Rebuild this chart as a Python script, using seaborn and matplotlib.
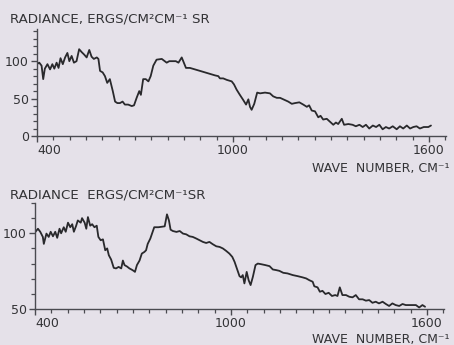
import numpy as np
import pandas as pd
import matplotlib
matplotlib.use("Agg")
import matplotlib.pyplot as plt
from matplotlib.ticker import MultipleLocator, FixedLocator
import seaborn as sns

# ---------------- data ----------------
top_wn = [399, 407, 414, 419, 424, 432, 440, 447, 453, 460, 466, 472, 479, 486, 493,
          499, 506, 513, 521, 529, 537, 544, 552, 560, 567, 574, 583, 588, 593, 601,
          608, 615, 623, 632, 639, 646, 654, 662, 669, 679, 690, 697, 705, 713, 718,
          725, 733, 741, 748, 756, 766, 782, 797, 805, 815, 825, 833, 843, 856, 868,
          884, 899, 914, 930, 945, 955, 960, 970, 981, 996, 1003, 1011, 1021, 1030, 1040,
          1047, 1052, 1057, 1065, 1074, 1083, 1098, 1113, 1123, 1134, 1144, 1154, 1169, 1180, 1190,
          1203, 1215, 1226, 1233, 1241, 1251, 1261, 1268, 1276, 1287, 1297, 1307, 1315, 1322, 1333,
          1340, 1353, 1366, 1376, 1387, 1397, 1407, 1417, 1428, 1438, 1448, 1458, 1468, 1478, 1489,
          1501, 1511, 1521, 1532, 1542, 1552, 1562, 1572, 1584, 1598, 1606]
top_rad = [96, 98, 94, 76, 90, 96, 89, 96, 90, 98, 91, 104, 96, 105, 111,
           100, 107, 98, 100, 116, 112, 109, 105, 115, 106, 103, 105, 103, 87, 85,
           80, 71, 76, 60, 46, 44, 44, 46, 42, 42, 40, 41, 51, 60, 55,
           76, 76, 73, 80, 94, 102, 103, 98, 100, 100, 100, 98, 105, 91, 91,
           89, 87, 85, 83, 81, 80, 77, 77, 75, 73, 69, 62, 55, 49, 42,
           49, 39, 35, 43, 58, 57, 58, 57, 53, 51, 51, 49, 46, 43, 44,
           45, 42, 39, 41, 34, 33, 25, 27, 22, 23, 19, 15, 18, 16, 23,
           15, 16, 15, 13, 15, 12, 15, 10, 14, 12, 15, 9, 12, 10, 13,
           9, 13, 10, 14, 10, 12, 13, 10, 12, 12, 14]

bot_wn = [401, 409, 416, 424, 427, 435, 442, 448, 455, 462, 468, 475, 480, 488, 494,
          501, 508, 514, 519, 526, 531, 540, 544, 552, 557, 562, 569, 575, 582, 589,
          594, 601, 608, 615, 621, 626, 633, 641, 648, 656, 664, 669, 674, 682, 689,
          696, 702, 706, 712, 720, 727, 735, 740, 745, 753, 760, 765, 778, 797, 804,
          810, 815, 822, 833, 843, 853, 863, 873, 883, 894, 904, 914, 924, 934, 944,
          955, 965, 975, 985, 995, 1004, 1011, 1018, 1026, 1031, 1036, 1041, 1048, 1054, 1060,
          1067, 1075, 1082, 1092, 1105, 1118, 1128, 1138, 1148, 1160, 1173, 1189, 1204, 1219, 1230,
          1240, 1250, 1255, 1265, 1272, 1280, 1289, 1299, 1309, 1319, 1326, 1333, 1341, 1352, 1362,
          1372, 1382, 1392, 1403, 1413, 1423, 1433, 1443, 1453, 1464, 1474, 1484, 1494, 1504, 1515,
          1525, 1535, 1545, 1555, 1566, 1576, 1586, 1594]
bot_rad = [100.9, 103, 101, 97.6, 93, 99.8, 97.6, 101, 98, 101, 97, 103, 100, 104, 101,
           107, 104, 106, 101, 105, 108.5, 107, 110, 107, 103, 110.7, 105, 106, 104, 105,
           97.6, 95.4, 96, 88.8, 90, 85.5, 82.7, 77.2, 76.8, 77.8, 76.8, 82, 79, 78, 76.8,
           76, 75.2, 74.5, 79, 82, 86.6, 87.7, 88.8, 93, 96.5, 101, 104, 104, 104.6, 112.5,
           108.5, 102.4, 101.5, 100.9, 101.5, 99.8, 99.3, 98, 97.6, 96.5, 95.4, 94.3, 93.6, 94.3, 92.8,
           91.4, 91, 90, 88.4, 86.6, 84.4, 81.1, 76.8, 71.7, 70.9, 72.4, 66.9, 74.5, 69, 65.8,
           71.3, 79, 80, 79.6, 79, 78.3, 76.1, 75.7, 75.2, 73.9, 73.5, 72.4, 71.7, 70.9, 70.2,
           69, 68, 65, 64.3, 61.4, 62, 59.9, 60.7, 58.6, 59.2, 58.6, 64.3, 59.2, 59.2, 58.1,
           57.7, 59.2, 56.4, 56.4, 55.5, 55.9, 54.1, 54.8, 53.7, 54.8, 53.3, 52, 53.7, 52.6, 52,
           53.3, 52.6, 52.6, 52.6, 52.6, 51, 52.6, 51.5]

x_major = [400, 1000, 1600]
x_labels = ["400", "1000", "1600"]
top_y_major = [0, 50, 100]
bot_y_major = [50, 100]

top_title = "RADIANCE, ERGS/CM\u00b2CM\u207b\u00b9 SR"
bot_title = "RADIANCE  ERGS/CM\u00b2CM\u207b\u00b9SR"
xlabel = "WAVE  NUMBER, CM\u207b\u00b9"

# ---------------- style ----------------
sns.set_style("ticks")
BG = "#e5e1e9"
INK = "#29292c"
AX = "#4a4a50"
plt.rcParams['font.family'] = ['DejaVu Sans']

W, H = 454, 345
fig = plt.figure(figsize=(W / 100, H / 100), dpi=100, facecolor=BG)


def px_axes(left, right, top, bottom):
    return fig.add_axes([left / W, 1 - bottom / H, (right - left) / W, (bottom - top) / H])


ax1 = px_axes(37, 446, 29, 136)
ax2 = px_axes(35, 444, 203, 309)

df1 = pd.DataFrame({"wn": top_wn, "rad": top_rad})
df2 = pd.DataFrame({"wn": bot_wn, "rad": bot_rad})

sns.lineplot(data=df1, x="wn", y="rad", ax=ax1, color=INK, lw=1.3, estimator=None, sort=False)
sns.lineplot(data=df2, x="wn", y="rad", ax=ax2, color=INK, lw=1.3, estimator=None, sort=False)

ax1.set_ylim(0, 143)
ax2.set_ylim(50, 120)

for ax, ymaj in ((ax1, top_y_major), (ax2, bot_y_major)):
    ax.set_facecolor(BG)
    ax.set_xlim(400, 1652)
    for s in ("top", "right"):
        ax.spines[s].set_visible(False)
    for s in ("left", "bottom"):
        ax.spines[s].set_color(AX)
        ax.spines[s].set_linewidth(1.0)
    ax.xaxis.set_major_locator(FixedLocator(x_major))
    ax.set_xticklabels(x_labels)
    ax.xaxis.set_minor_locator(MultipleLocator(50))
    ax.yaxis.set_major_locator(FixedLocator(ymaj))
    ax.set_yticklabels([str(v) for v in ymaj])
    ax.yaxis.set_minor_locator(MultipleLocator(10))
    ax.tick_params(axis="both", which="major", length=4, width=1.0, color=AX,
                   labelsize=9, labelcolor="#333336", pad=2)
    ax.tick_params(axis="both", which="minor", length=3, width=0.9, color=AX)
    ax.set_xlabel("")
    ax.set_ylabel("")
    # first x label sits to the right of its tick, as in the original
    ax.get_xticklabels()[0].set_horizontalalignment("left")

fig.text(10 / W, 1 - 23 / H, top_title, fontsize=9.6, color="#333336", ha="left", va="baseline")
fig.text(10 / W, 1 - 198 / H, bot_title, fontsize=9.6, color="#333336", ha="left", va="baseline")
fig.text(450 / W, 1 - 172 / H, xlabel, fontsize=9, color="#333336", ha="right", va="baseline")
fig.text(450 / W, 1 - 343 / H, xlabel, fontsize=9, color="#333336", ha="right", va="baseline")

fig.savefig("out.png", dpi=100, facecolor=BG)
